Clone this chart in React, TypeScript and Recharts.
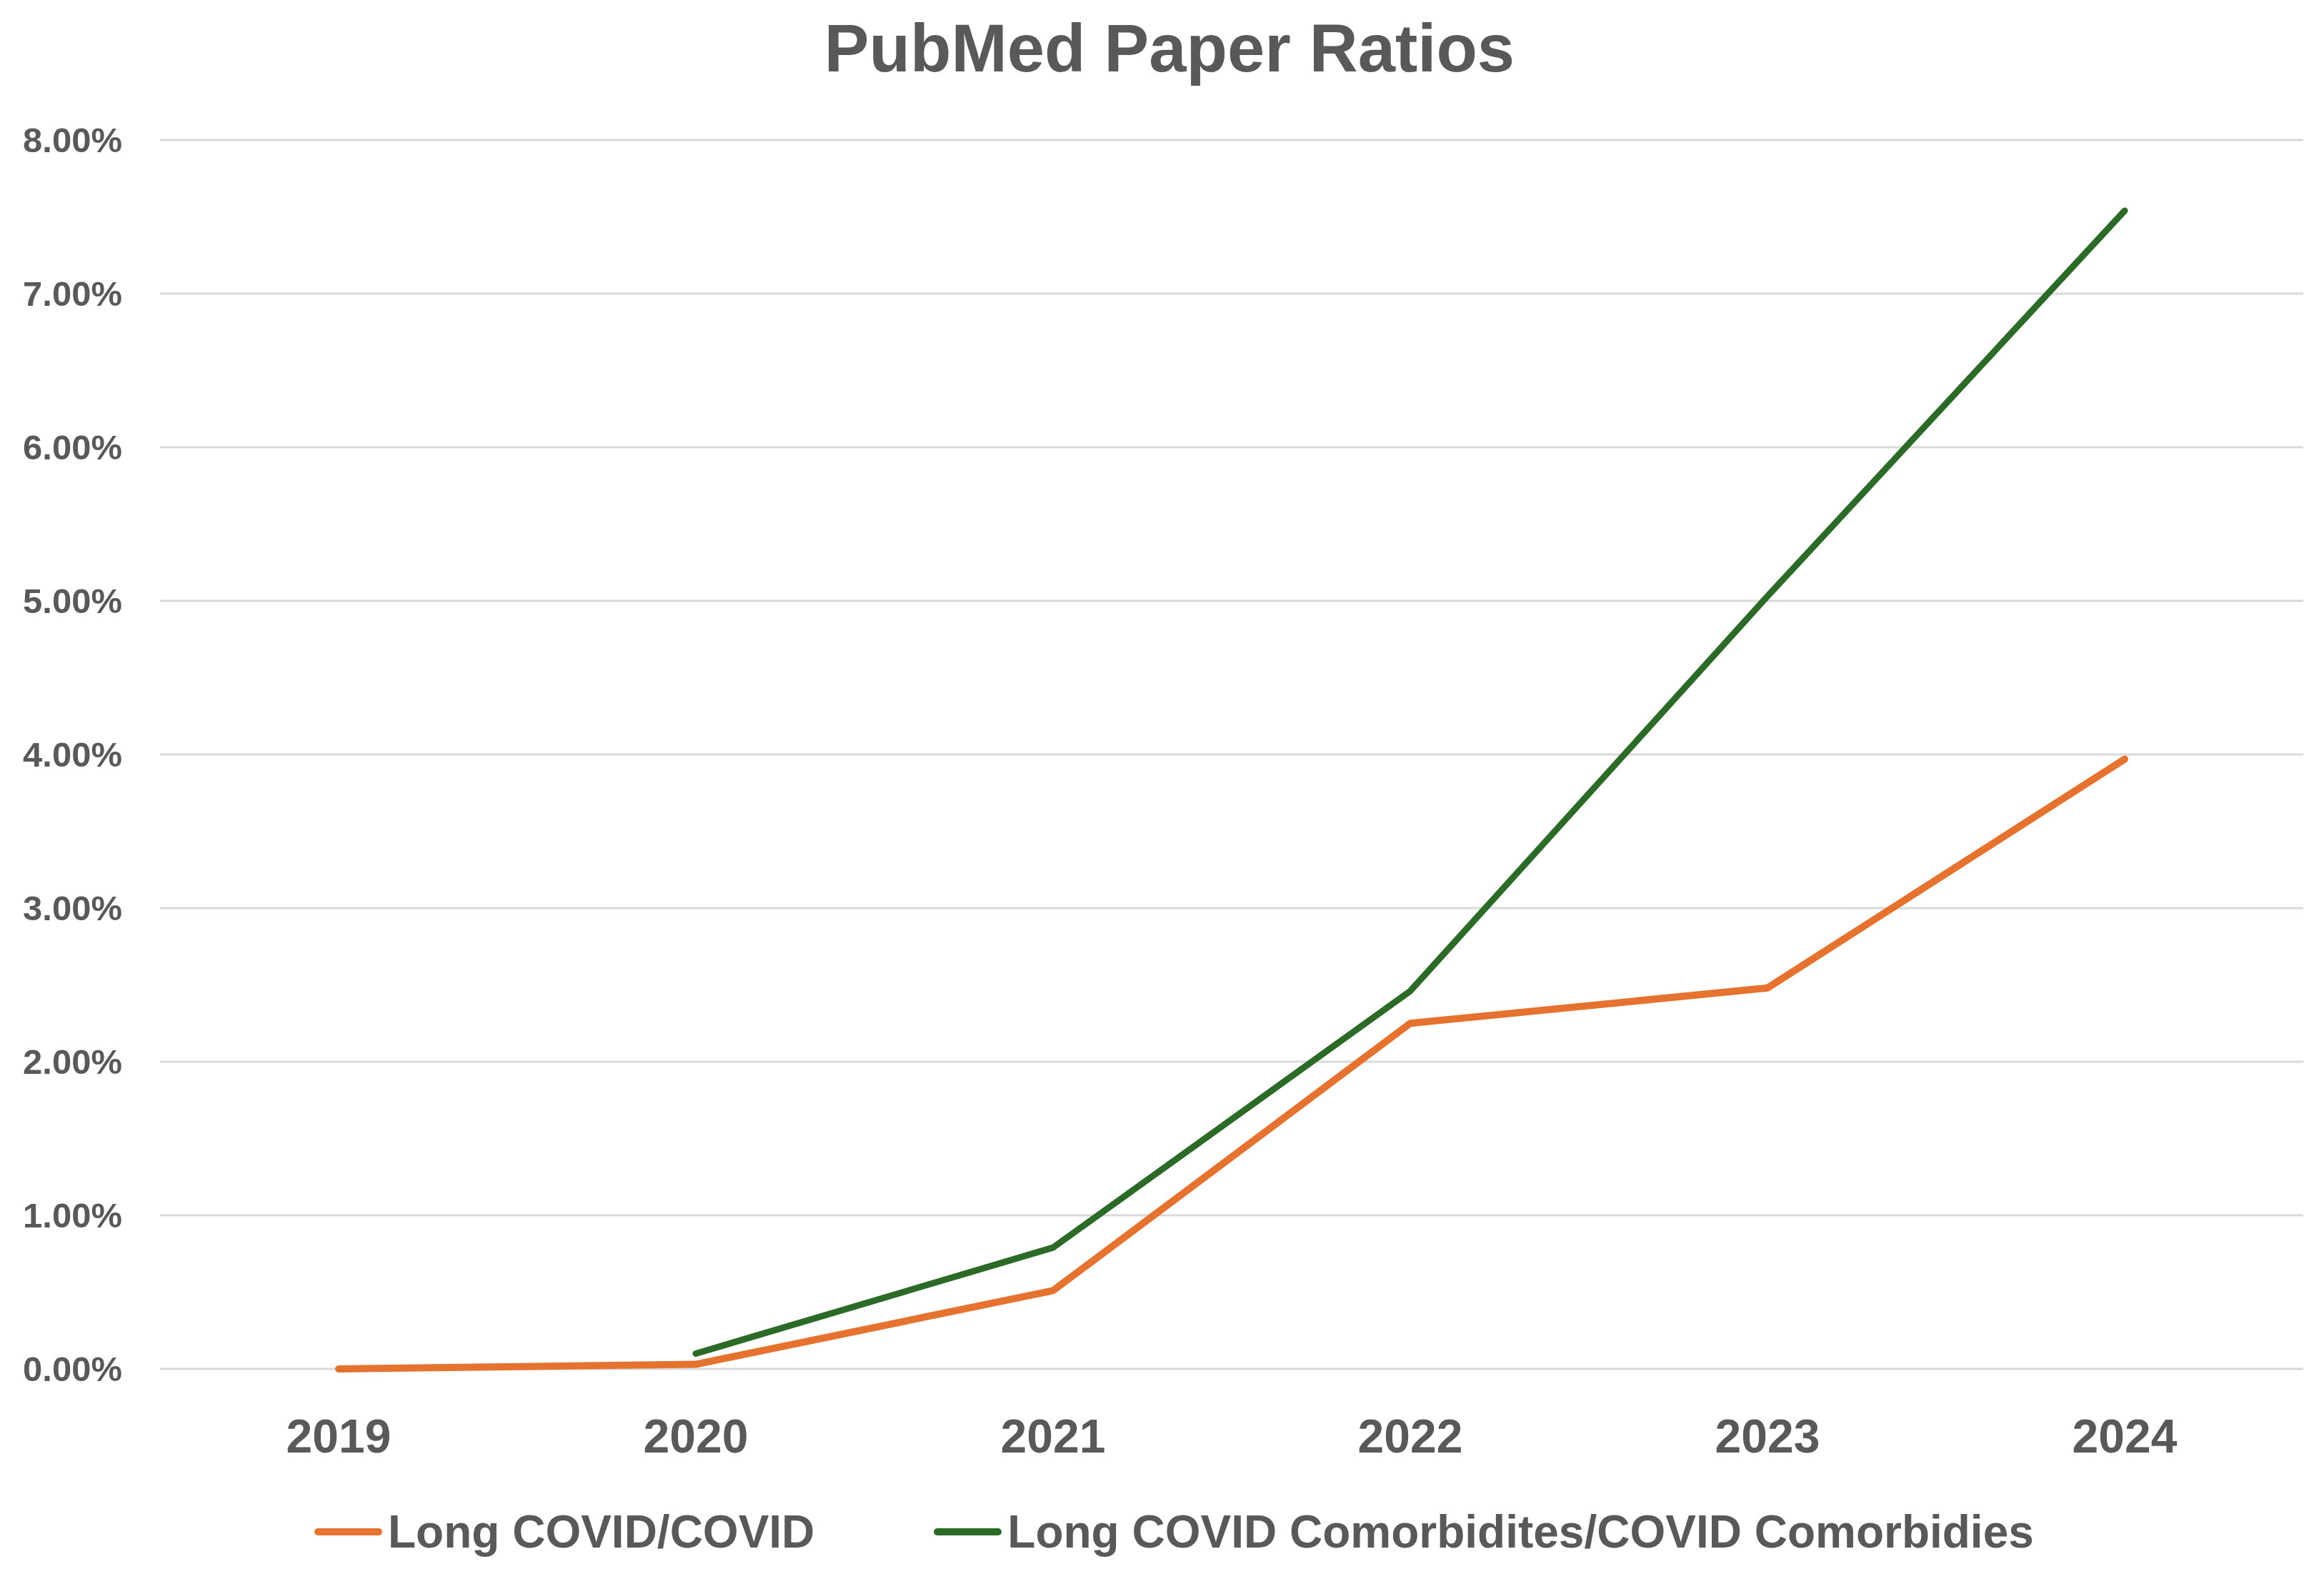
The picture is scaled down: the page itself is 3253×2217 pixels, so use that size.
import React from 'react';
import { LineChart, Line, XAxis, YAxis, CartesianGrid, Legend } from 'recharts';

const years = ['2019', '2020', '2021', '2022', '2023', '2024'];
const longCovid = [0.0, 0.03, 0.51, 2.25, 2.48, 3.97];
const comorbidities = [null, 0.1, 0.79, 2.46, 5.03, 7.54];
const yTicks = [0, 1, 2, 3, 4, 5, 6, 7, 8];
const seriesNames = ['Long COVID/COVID', 'Long COVID Comorbidites/COVID Comorbidies'];
const seriesKeys = ['longCovid', 'comorbidities'];
const seriesColors = ['#E6722F', '#2C6B27'];
const seriesWidths = [10, 9];
const title = 'PubMed Paper Ratios';

const data = years.map((year, i) => ({
  year,
  longCovid: longCovid[i],
  comorbidities: comorbidities[i],
}));

const W = 3253;
const H = 2217;
const FONT = '"Liberation Sans", Arial, sans-serif';
const TEXT = '#595959';

const LegendContent = () => (
  <div
    style={{
      display: 'flex',
      alignItems: 'center',
      height: 80,
      paddingLeft: 440,
      fontFamily: FONT,
      fontWeight: 700,
      fontSize: 64,
      lineHeight: '80px',
      color: TEXT,
      whiteSpace: 'nowrap',
    }}
  >
    {seriesNames.map((name, i) => (
      <div key={name} style={{ display: 'flex', alignItems: 'center', marginRight: i === 0 ? 167 : 0 }}>
        <div
          style={{
            width: 95,
            height: 10,
            borderRadius: 5,
            background: seriesColors[i],
            marginRight: 8,
          }}
        />
        <span>{name}</span>
      </div>
    ))}
  </div>
);

export default function App() {
  return (
    <div style={{ position: 'absolute', left: 0, top: 0, width: W, height: H, background: '#fff' }}>
      <svg width={W} height={140} style={{ position: 'absolute', left: 0, top: 0 }}>
        <text
          x={1637}
          y={100}
          textAnchor="middle"
          fontFamily={FONT}
          fontWeight={700}
          fontSize={94}
          fill={TEXT}
        >
          {title}
        </text>
      </svg>
      <LineChart
        width={W}
        height={H}
        data={data}
        margin={{ top: 196, right: 29, bottom: 181, left: 0 }}
      >
        <CartesianGrid vertical={false} stroke="#D9D9D9" strokeWidth={3} />
        <XAxis
          dataKey="year"
          axisLine={false}
          tickLine={false}
          tickSize={0}
          tickMargin={70}
          height={120}
          padding={{ left: 250, right: 250 }}
          tick={{ fill: TEXT, fontSize: 66, fontWeight: 700, fontFamily: FONT }}
        />
        <YAxis
          domain={[0, 8]}
          ticks={yTicks}
          width={224}
          axisLine={false}
          tickLine={false}
          tickSize={0}
          tickMargin={53}
          tickFormatter={(v: number) => `${v.toFixed(2)}%`}
          tick={{ fill: TEXT, fontSize: 49, fontWeight: 700, fontFamily: FONT }}
        />
        {seriesKeys.map((k, i) => (
          <Line
            key={k}
            type="linear"
            dataKey={k}
            name={seriesNames[i]}
            stroke={seriesColors[i]}
            strokeWidth={seriesWidths[i]}
            strokeLinecap="round"
            strokeLinejoin="round"
            dot={false}
            activeDot={false}
            isAnimationActive={false}
          />
        ))}
        <Legend
          layout="horizontal"
          verticalAlign="middle"
          align="center"
          content={() => <LegendContent />}
          wrapperStyle={{ position: 'absolute', top: 2104, left: 0, width: W, height: 80, margin: 0, padding: 0 }}
        />
      </LineChart>
    </div>
  );
}
